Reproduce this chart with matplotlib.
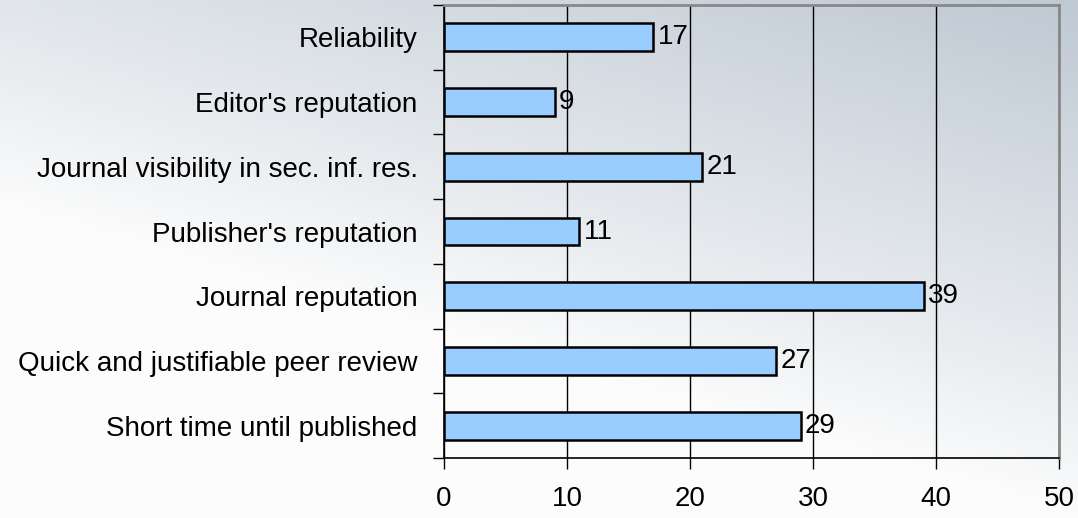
import matplotlib.pyplot as plt
import numpy as np

plt.rcParams['font.family'] = ['Liberation Sans', 'DejaVu Sans']

# data
categories = ['Short time until published', 'Quick and justifiable peer review',
              'Journal reputation', "Publisher's reputation",
              'Journal visibility in sec. inf. res.', "Editor's reputation", 'Reliability']
values = [29, 27, 39, 11, 21, 9, 17]
xticks = [0, 10, 20, 30, 40, 50]

fig = plt.figure(figsize=(10.78, 5.18), dpi=100)

# background gradient: white bottom-left to grey-blue top-right
bg = fig.add_axes([0, 0, 1, 1], zorder=-10)
gx, gy = np.meshgrid(np.linspace(0, 1, 200), np.linspace(0, 1, 100))
t = np.clip(0.6 * gx + 1.0 * (1 - gy) - 0.6, 0, 1) ** 0.9
c0 = np.array([0.99, 0.99, 0.99])
c1 = np.array([0.75, 0.79, 0.83])
img = c0 + (c1 - c0) * t[..., None]
bg.imshow(img, aspect='auto', extent=[0, 1, 0, 1], origin='upper')
bg.axis('off')

ax = fig.add_axes([444 / 1078, 1 - 458 / 518, 615 / 1078, 453 / 518])
ax.patch.set_alpha(0)

y = np.arange(len(categories))
ax.barh(y, values, height=0.43, color='#99CCFF', edgecolor='black', linewidth=1.8, zorder=3)
for yi, v in zip(y, values):
    ax.text(v + 0.35, yi, str(v), va='center', ha='left', fontsize=20, zorder=4)

ax.set_xlim(0, 50)
ax.set_ylim(-0.5, len(categories) - 0.5)
ax.set_xticks(xticks)
ax.set_yticks(y)
ax.set_yticklabels(categories)
ax.set_yticks(np.arange(-0.5, len(categories)), minor=True)
ax.tick_params(axis='y', which='major', length=0, pad=19, labelsize=20)
ax.tick_params(axis='y', which='minor', length=8, direction='out', width=1)
ax.tick_params(axis='x', length=8, direction='out', width=1, labelsize=20, pad=12)
ax.xaxis.grid(True, color='black', linewidth=1, zorder=0)
ax.set_axisbelow(True)
for s in ['top', 'right']:
    ax.spines[s].set_color('#888888')
    ax.spines[s].set_linewidth(2)
for s in ['left', 'bottom']:
    ax.spines[s].set_linewidth(1.2)

fig.savefig('out.png', dpi=100)
